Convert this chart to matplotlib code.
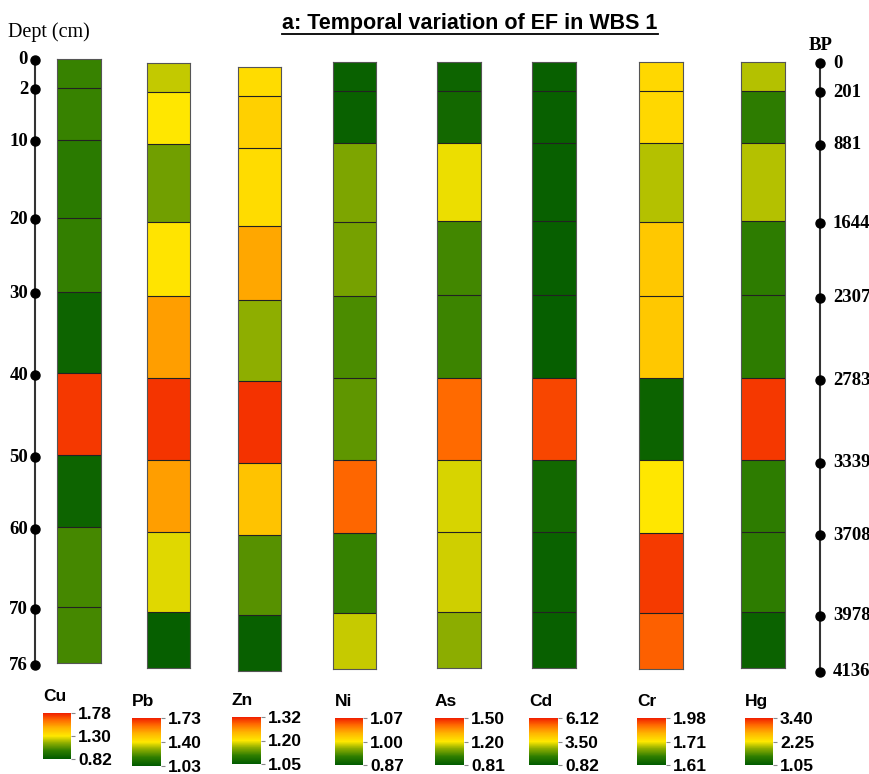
import numpy as np
import matplotlib
matplotlib.use('Agg')
import matplotlib.pyplot as plt
from matplotlib.colors import LinearSegmentedColormap, TwoSlopeNorm
from matplotlib.cm import ScalarMappable
from matplotlib.lines import Line2D

# Sampling depths (cm) bounding each core interval, and the matching ages (yr BP)
depth_edges = [0, 2, 10, 20, 30, 40, 50, 60, 70, 76]
bp_ages = [0, 201, 881, 1644, 2307, 2783, 3339, 3708, 3978, 4136]

# Enrichment factor per interval (top to bottom) for each element
ef_cu = [1.01, 1.01, 0.98, 1.00, 0.87, 1.73, 0.87, 1.03, 1.03]
ef_pb = [1.34, 1.40, 1.25, 1.41, 1.55, 1.70, 1.55, 1.37, 1.05]
ef_zn = [1.21, 1.22, 1.21, 1.25, 1.155, 1.31, 1.23, 1.125, 1.06]
ef_ni = [0.88, 0.88, 0.953, 0.95, 0.93, 0.94, 1.05, 0.92, 0.98]
ef_as = [0.85, 0.87, 1.18, 0.98, 0.97, 1.41, 1.16, 1.15, 1.08]
ef_cd = [1.00, 1.00, 1.00, 0.98, 0.95, 5.70, 1.20, 1.05, 1.00]
ef_cr = [1.74, 1.74, 1.69, 1.77, 1.77, 1.62, 1.71, 1.95, 1.91]
ef_hg = [2.01, 1.48, 2.01, 1.48, 1.48, 3.28, 1.48, 1.48, 1.16]

elements = ['Cu', 'Pb', 'Zn', 'Ni', 'As', 'Cd', 'Cr', 'Hg']
ef_values = [ef_cu, ef_pb, ef_zn, ef_ni, ef_as, ef_cd, ef_cr, ef_hg]

# Colour scale limits (min, centre, max) used for each element
scale_min = [0.82, 1.03, 1.05, 0.87, 0.81, 0.82, 1.61, 1.05]
scale_mid = [1.30, 1.40, 1.20, 1.00, 1.20, 3.50, 1.71, 2.25]
scale_max = [1.78, 1.73, 1.32, 1.07, 1.50, 6.12, 1.98, 3.40]

# Green - yellow - red ramp
ef_cmap = LinearSegmentedColormap.from_list('ef', [
    (0.00, '#005a00'), (0.18, '#2e7d00'), (0.35, '#8fae00'),
    (0.50, '#ffe800'), (0.68, '#ffb400'), (0.85, '#ff6a00'),
    (1.00, '#f01e00')])

# Schematic core scale: the top interval is drawn thicker than true depth
strip_pos = [0, 29, 81, 159, 233, 315, 397, 469, 549, 605]


def depth_fwd(d):
    return np.interp(d, depth_edges, strip_pos)


def depth_inv(p):
    return np.interp(p, strip_pos, depth_edges)


def core_axis(ax):
    ax.set_yscale('function', functions=(depth_fwd, depth_inv))
    ax.set_ylim(depth_edges[-1], depth_edges[0])


W, H = 869, 774
fig = plt.figure(figsize=(W / 100, H / 100), dpi=100)


def px_rect(x0, y0, x1, y1):
    # pixel box (top-left origin) -> figure fraction rect
    return [x0 / W, 1 - y1 / H, (x1 - x0) / W, (y1 - y0) / H]


serif = 'Liberation Serif'
sans = 'Liberation Sans'

# Core columns: x range and top/bottom in pixels
col_boxes = [(57, 59, 101, 663), (147, 63, 190, 668), (238, 67, 281, 671),
             (333, 62, 376, 669), (437, 62, 481, 668), (532, 62, 576, 668),
             (639, 62, 683, 669), (741, 62, 785, 668)]

# Legend colour bars: x range and top/bottom in pixels
bar_boxes = [(43, 713, 71, 759), (132, 718, 161, 766), (232, 717, 261, 764),
             (335, 718, 363, 765), (435, 718, 464, 765), (529, 718, 558, 765),
             (637, 718, 666, 765), (745, 718, 773, 765)]

for name, vals, lo, mid, hi, box, bbox in zip(elements, ef_values, scale_min,
                                              scale_mid, scale_max, col_boxes, bar_boxes):
    norm = TwoSlopeNorm(vmin=lo, vcenter=mid, vmax=hi)

    ax = fig.add_axes(px_rect(*box))
    ax.pcolormesh([0, 1], depth_edges, np.array(vals)[:, None], cmap=ef_cmap, norm=norm)
    for d in depth_edges[1:-1]:
        ax.axhline(d, color='#222222', lw=0.8)
    ax.set_xlim(0, 1)
    core_axis(ax)
    ax.set_xticks([])
    ax.set_yticks([])
    ax.minorticks_off()
    for sp in ax.spines.values():
        sp.set_color('#555555')
        sp.set_linewidth(0.8)

    # colour bar legend for this element
    cax = fig.add_axes(px_rect(*bbox))
    cb = fig.colorbar(ScalarMappable(norm=norm, cmap=ef_cmap), cax=cax,
                      ticks=[lo, mid, hi])
    cb.outline.set_visible(False)
    cb.ax.set_yticklabels(['%.2f' % v for v in (lo, mid, hi)])
    cb.ax.tick_params(length=3, width=0.8, color='#888888', pad=2)
    for t in cb.ax.get_yticklabels():
        t.set_fontfamily(sans)
        t.set_fontweight('bold')
        t.set_fontsize(12.5)
    fig.text(bbox[0] / W, 1 - (bbox[1] - 9) / H, name, fontfamily=sans,
             fontweight='bold', fontsize=12.5, ha='left', va='bottom')

# Depth scale on the left
dax = fig.add_axes(px_rect(30, 60, 40, 665))
dax.plot([0, 0], [depth_edges[0], depth_edges[-1]], color='#333333', lw=1.5,
         clip_on=False)
dax.plot(np.zeros(len(depth_edges)), depth_edges, 'o', color='black', ms=6.5,
         clip_on=False)
for d in depth_edges:
    dax.text(-1.4, d, str(d), ha='right', va='center', fontfamily=serif,
             fontweight='bold', fontsize=13.5)
dax.set_xlim(-1, 1)
core_axis(dax)
dax.axis('off')
fig.text(8 / W, 1 - 32 / H, 'Dept (cm)', fontfamily=serif, fontsize=14.5,
         ha='left', va='center')

# Age scale on the right
bax = fig.add_axes(px_rect(815, 63, 825, 672))
bax.plot([0, 0], [depth_edges[0], depth_edges[-1]], color='#333333', lw=1.5,
         clip_on=False)
bax.plot(np.zeros(len(depth_edges)), depth_edges, 'o', color='black', ms=6.5,
         clip_on=False)
for d, age in zip(depth_edges, bp_ages):
    bax.text(2.6, d, str(age), ha='left', va='center', fontfamily=serif,
             fontweight='bold', fontsize=13.5, clip_on=False)
bax.set_xlim(-1, 1)
core_axis(bax)
bax.axis('off')
fig.text(809 / W, 1 - 46 / H, 'BP', fontfamily=serif, fontweight='bold',
         fontsize=13.5, ha='left', va='center')

# Underlined title
title = fig.text(470 / W, 1 - 29 / H, 'a: Temporal variation of EF in WBS 1',
                 fontfamily=sans, fontweight='bold', fontsize=15.5,
                 ha='center', va='baseline')
fig.canvas.draw()
tb = title.get_window_extent().transformed(fig.transFigure.inverted())
uy = 1 - 34 / H
fig.add_artist(Line2D([tb.x0, tb.x1], [uy, uy], transform=fig.transFigure,
                      color='black', lw=1.3))

fig.savefig('out.png', dpi=100)
